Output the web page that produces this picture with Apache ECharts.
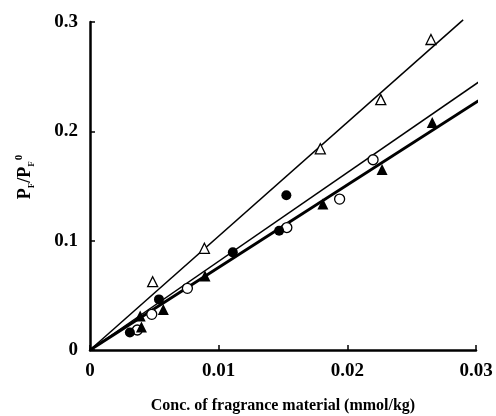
<!DOCTYPE html>
<html><head><meta charset="utf-8">
<script src="https://cdn.jsdelivr.net/npm/echarts@6/dist/echarts.min.js"></script>
<style>html,body{margin:0;padding:0;background:#fff}#c{width:496px;height:416px}</style>
</head><body><div id="c"></div>
<script>
var openTriangle = [[0.00487,0.0625],[0.00889,0.093],[0.0179,0.184],[0.0226,0.229],[0.0265,0.284]];
var filledCircle = [[0.0031,0.016],[0.00536,0.0463],[0.0111,0.0893],[0.0147,0.109],[0.01526,0.1415]];
var openCircle = [[0.00368,0.0183],[0.0048,0.0326],[0.00757,0.0564],[0.0153,0.112],[0.0194,0.138],[0.022,0.174]];
var filledTriangle = [[0.0040,0.021],[0.0039,0.031],[0.0057,0.037],[0.00894,0.0677],[0.0181,0.1335],[0.0227,0.165],[0.0266,0.208]];
var lineA = [[0,0],[0.029,0.302]];
var lineB = [[0,0],[0.0302,0.245]];
var lineC = [[0,0],[0.0302,0.228]];
var xTicks = [0,0.01,0.02,0.03];
var yTicks = [0,0.1,0.2,0.3];

var font = 'Liberation Serif';
var chart = echarts.init(document.getElementById('c'));
function lbl(v){return v===0?'0':String(v);}
chart.setOption({
  animation:false,
  backgroundColor:'#fff',
  grid:{left:90,right:20,top:22,bottom:66,containLabel:false,outerBoundsMode:'none'},
  xAxis:{type:'value',min:0,max:0.03,interval:0.01,
    axisLine:{lineStyle:{color:'#000',width:2.5}},
    axisTick:{inside:true,length:5,lineStyle:{color:'#000',width:1.5}},
    splitLine:{show:false},
    axisLabel:{color:'#000',fontFamily:font,fontWeight:'bold',fontSize:19,margin:12,formatter:lbl},
    name:'Conc. of fragrance material (mmol/kg)',nameLocation:'middle',nameGap:48,
    nameTextStyle:{color:'#000',fontFamily:font,fontWeight:'bold',fontSize:16}
  },
  yAxis:{type:'value',min:0,max:0.3,interval:0.1,
    axisLine:{show:true,lineStyle:{color:'#000',width:2.5}},
    axisTick:{show:true,inside:true,length:5,lineStyle:{color:'#000',width:1.5}},
    splitLine:{show:false},
    axisLabel:{color:'#000',fontFamily:font,fontWeight:'bold',fontSize:19,margin:12,formatter:lbl}
  },
  graphic:[{type:'text',x:25,y:177,rotation:Math.PI/2,
    style:{text:'{p|P}{s|F}{p|/P}{s|F}{u|0}',align:'center',verticalAlign:'middle',
      rich:{p:{fontFamily:font,fontWeight:'bold',fontSize:18,fill:'#000',lineHeight:22},
            s:{fontFamily:font,fontWeight:'bold',fontSize:9,fill:'#000',verticalAlign:'bottom',lineHeight:22,padding:[9,0,0,0]},
            u:{fontFamily:font,fontWeight:'bold',fontSize:11,fill:'#000',verticalAlign:'top',lineHeight:22,padding:[0,0,11,1]}}}}],
  series:[
    {type:'line',data:lineA,symbol:'none',clip:false,lineStyle:{color:'#000',width:1.5},z:1},
    {type:'line',data:lineB,symbol:'none',clip:false,lineStyle:{color:'#000',width:1.5},z:1},
    {type:'line',data:lineC,symbol:'none',clip:false,lineStyle:{color:'#000',width:3},z:1},
    {type:'scatter',data:openTriangle,symbol:'triangle',symbolSize:10,itemStyle:{color:'#fff',borderColor:'#000',borderWidth:1.3,opacity:1},z:3},
    {type:'scatter',data:openCircle,symbol:'circle',symbolSize:10,itemStyle:{color:'#fff',borderColor:'#000',borderWidth:1.3,opacity:1},z:3},
    {type:'scatter',data:filledTriangle,symbol:'triangle',symbolSize:11,itemStyle:{color:'#000',opacity:1},z:4},
    {type:'scatter',data:filledCircle,symbol:'circle',symbolSize:10,itemStyle:{color:'#000',opacity:1},z:4}
  ]
});
</script></body></html>
